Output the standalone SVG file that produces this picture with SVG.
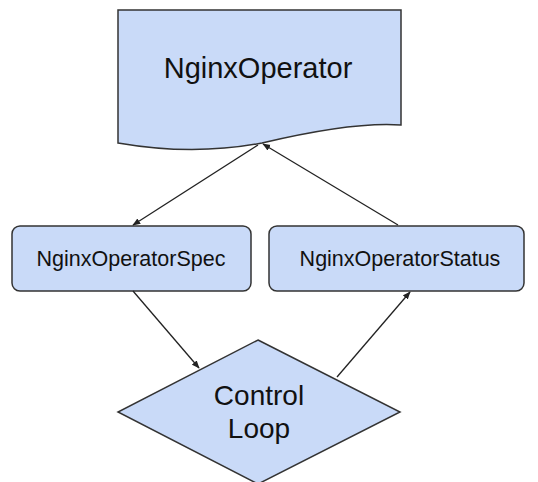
<svg xmlns="http://www.w3.org/2000/svg" width="538" height="482" viewBox="0 0 538 482">
<style>
.shape{fill:#c9daf8;stroke:#333;stroke-width:1.5}
.lbl{font-family:"Liberation Sans",Arial,sans-serif;fill:#111;text-anchor:middle}
.conn{stroke:#222;stroke-width:1.3;fill:none;marker-end:url(#ah)}
</style>
<defs>
<marker id="ah" viewBox="0 0 10 10" refX="9" refY="5" markerWidth="8" markerHeight="8" markerUnits="userSpaceOnUse" orient="auto">
<path d="M0,1 L10,5 L0,9 z" fill="#222"/>
</marker>
</defs>
<rect width="538" height="482" fill="#fff"/>
<g id="nginxoperator">
<path class="shape" d="M118,10 H401 V125 C 360,122 300,134 262,143 C 215,152 170,152 118,143 Z"/>
<text class="lbl" x="258" y="78" font-size="29">NginxOperator</text>
</g>
<g id="spec">
<rect class="shape" x="12" y="226" width="239" height="65" rx="8"/>
<text class="lbl" x="131" y="266" font-size="21.5">NginxOperatorSpec</text>
</g>
<g id="status">
<rect class="shape" x="269" y="226" width="255" height="65" rx="8"/>
<text class="lbl" x="400" y="266" font-size="21.5">NginxOperatorStatus</text>
</g>
<g id="control">
<path class="shape" d="M258,340 L400,412 L258,484 L118,412 Z"/>
<text class="lbl" x="259" y="405" font-size="28">Control</text>
<text class="lbl" x="259" y="438" font-size="28">Loop</text>
</g>
<g id="connectors">
<line class="conn" x1="258" y1="145" x2="133" y2="225"/>
<line class="conn" x1="398" y1="225" x2="263" y2="144"/>
<line class="conn" x1="133" y1="291" x2="199" y2="368"/>
<line class="conn" x1="337" y1="377" x2="410" y2="292"/>
</g>
</svg>
